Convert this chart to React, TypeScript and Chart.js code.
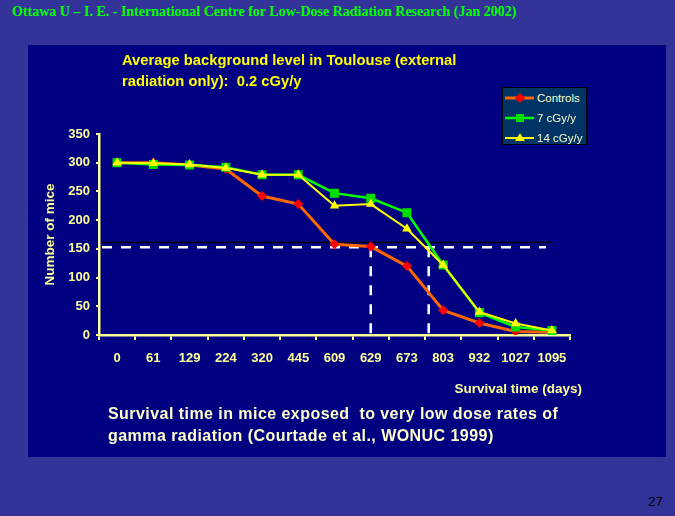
import React, { useEffect, useRef } from 'react';
import Chart from 'chart.js/auto';

// survival data
const days = ['0', '61', '129', '224', '320', '445', '609', '629', '673', '803', '932', '1027', '1095'];
const controls = [300, 300, 296, 289, 242, 228, 158, 154, 120, 43, 21, 6, 5];
const dose7 = [300, 297, 296, 292, 279, 279, 247, 238, 213, 122, 39, 14, 8];
const dose14 = [300, 299, 297, 291, 279, 279, 225, 228, 185, 122, 40, 20, 8];
const yTicks = [0, 50, 100, 150, 200, 250, 300, 350];

// reference marks (number of mice, category positions)
const blackLevel = 161;
const halfLevel = 153;
const halfDays = [7, 8.6];

const axisColor = '#FFFF99';
const sans = '"Liberation Sans", Arial, Helvetica, sans-serif';

const refLines = {
  id: 'refLines',
  beforeDatasetsDraw(chart: any) {
    const { ctx, scales } = chart;
    const x = scales.x;
    const y = scales.y;
    const left = x.left + 2;
    const end = x.getPixelForValue(days.length - 1);
    ctx.save();
    ctx.strokeStyle = '#000000';
    ctx.lineWidth = 1.5;
    ctx.beginPath();
    ctx.moveTo(left, y.getPixelForValue(blackLevel));
    ctx.lineTo(end, y.getPixelForValue(blackLevel));
    ctx.stroke();

    ctx.strokeStyle = '#FFFFFF';
    ctx.lineWidth = 2.5;
    ctx.setLineDash([10, 9]);
    const hy = y.getPixelForValue(halfLevel);
    ctx.beginPath();
    ctx.moveTo(left + 1, hy);
    ctx.lineTo(end - 6, hy);
    ctx.stroke();
    halfDays.forEach((d) => {
      const px = x.getPixelForValue(d);
      ctx.beginPath();
      ctx.moveTo(px, hy);
      ctx.lineTo(px, y.getPixelForValue(yTicks[0]));
      ctx.stroke();
    });
    ctx.restore();
  },
};

function LegendRow({ top, color, width, marker, label }: any) {
  return (
    <div style={{ position: 'absolute', left: 2, top, height: 20, display: 'flex', alignItems: 'center' }}>
      <svg width={30} height={12} style={{ display: 'block' }}>
        <line x1={0} y1={6} x2={29} y2={6} stroke={color} strokeWidth={width} />
        {marker}
      </svg>
      <span style={{ marginLeft: 2, fontSize: 11.5, color: '#FFFFCC', fontFamily: sans, whiteSpace: 'nowrap' }}>{label}</span>
    </div>
  );
}

function SurvivalChart() {
  const chartRef = useRef<HTMLCanvasElement>(null);
  const chartInstance = useRef<Chart | null>(null);

  useEffect(() => {
    if (!chartRef.current) return;
    if (chartInstance.current) chartInstance.current.destroy();
    Chart.defaults.font.family = sans;

    chartInstance.current = new Chart(chartRef.current, {
      type: 'line',
      data: {
        labels: days,
        datasets: [
          {
            label: 'Controls',
            data: controls,
            borderColor: '#FF6600',
            borderWidth: 3,
            pointStyle: 'rectRot',
            pointRadius: 5,
            pointBackgroundColor: '#FF0000',
            pointBorderWidth: 0,
            tension: 0,
            order: 3,
          },
          {
            label: '7 cGy/y',
            data: dose7,
            borderColor: '#00FF00',
            borderWidth: 2.5,
            pointStyle: 'rect',
            pointRadius: 6.4,
            pointBackgroundColor: '#00DD00',
            pointBorderWidth: 0,
            tension: 0,
            order: 2,
          },
          {
            label: '14 cGy/y',
            data: dose14,
            borderColor: '#FFFF00',
            borderWidth: 2,
            pointStyle: 'triangle',
            pointRadius: 5.5,
            pointBackgroundColor: '#FFFF00',
            pointBorderWidth: 0,
            tension: 0,
            order: 1,
          },
        ],
      },
      options: {
        animation: false,
        responsive: false,
        layout: { padding: { top: 89, right: 96, left: 0, bottom: 0 } },
        plugins: { legend: { display: false }, tooltip: { enabled: false } },
        scales: {
          x: {
            type: 'category',
            offset: true,
            grid: { offset: true, drawOnChartArea: false, color: axisColor, tickLength: 5, lineWidth: 2 },
            border: { color: axisColor, width: 2.5 },
            ticks: { color: axisColor, font: { size: 13, weight: 'bold' }, padding: 11, maxRotation: 0, autoSkip: false },
            afterFit: (s: any) => { s.height = 122; },
          },
          y: {
            min: yTicks[0],
            max: yTicks[yTicks.length - 1],
            ticks: { stepSize: yTicks[1] - yTicks[0], color: axisColor, font: { size: 13, weight: 'bold' }, padding: 6 },
            grid: { drawOnChartArea: false, color: axisColor, tickLength: 3, lineWidth: 2 },
            border: { color: axisColor, width: 2.5 },
            title: {
              display: true,
              text: 'Number of mice',
              color: axisColor,
              font: { size: 13.5, weight: 'bold' },
              padding: { top: 14, bottom: 0 },
            },
            afterFit: (s: any) => { s.width = 71; },
          },
        },
      },
      plugins: [refLines],
    } as any);

    return () => {
      if (chartInstance.current) {
        chartInstance.current.destroy();
        chartInstance.current = null;
      }
    };
  }, []);

  return <canvas ref={chartRef} width={638} height={412} style={{ position: 'absolute', left: 0, top: 0, width: 638, height: 412 }} />;
}

export default function App() {
  return (
    <div style={{ position: 'fixed', left: 0, top: 0, width: 675, height: 516, background: '#333399', overflow: 'hidden' }}>
      <div style={{ position: 'absolute', left: 12, top: 4, fontFamily: '"Liberation Serif", "Times New Roman", serif', fontWeight: 'bold', fontSize: 14, color: '#00FF00', whiteSpace: 'nowrap' }}>
        Ottawa U – I. E. - International Centre for Low-Dose Radiation Research (Jan 2002)
      </div>
      <div style={{ position: 'absolute', left: 28, top: 45, width: 638, height: 412, background: '#000080' }}>
        <SurvivalChart />
        <div style={{ position: 'absolute', left: 94, top: 5, fontFamily: sans, fontWeight: 'bold', fontSize: 14.75, lineHeight: '21px', color: '#FFFF00', whiteSpace: 'pre' }}>
          {'Average background level in Toulouse (external\nradiation only):  0.2 cGy/y'}
        </div>
        <div style={{ position: 'absolute', left: 474, top: 42, width: 83, height: 56, background: '#003366', border: '1px solid #000000' }}>
          <LegendRow top={0} color="#FF6600" width={3} label="Controls"
            marker={<polygon points="15,1 20,6 15,11 10,6" fill="#FF0000" />} />
          <LegendRow top={19.5} color="#00FF00" width={2.5} label="7 cGy/y"
            marker={<rect x={11} y={2} width={8} height={8} fill="#00DD00" />} />
          <LegendRow top={39.5} color="#FFFF00" width={2} label="14 cGy/y"
            marker={<polygon points="15,1 20,9 10,9" fill="#FFFF00" />} />
        </div>
        <div style={{ position: 'absolute', right: 638 - 554, top: 336, fontFamily: sans, fontWeight: 'bold', fontSize: 13.5, color: axisColor, whiteSpace: 'nowrap' }}>
          Survival time (days)
        </div>
        <div style={{ position: 'absolute', left: 80, top: 358, fontFamily: sans, fontWeight: 'bold', fontSize: 16, letterSpacing: 0.45, lineHeight: '22px', color: '#FFFFCC', whiteSpace: 'pre' }}>
          {'Survival time in mice exposed  to very low dose rates of\ngamma radiation (Courtade et al., WONUC 1999)'}
        </div>
      </div>
      <div style={{ position: 'absolute', left: 648, top: 494, fontFamily: sans, fontSize: 13.5, color: '#000000' }}>27</div>
    </div>
  );
}
